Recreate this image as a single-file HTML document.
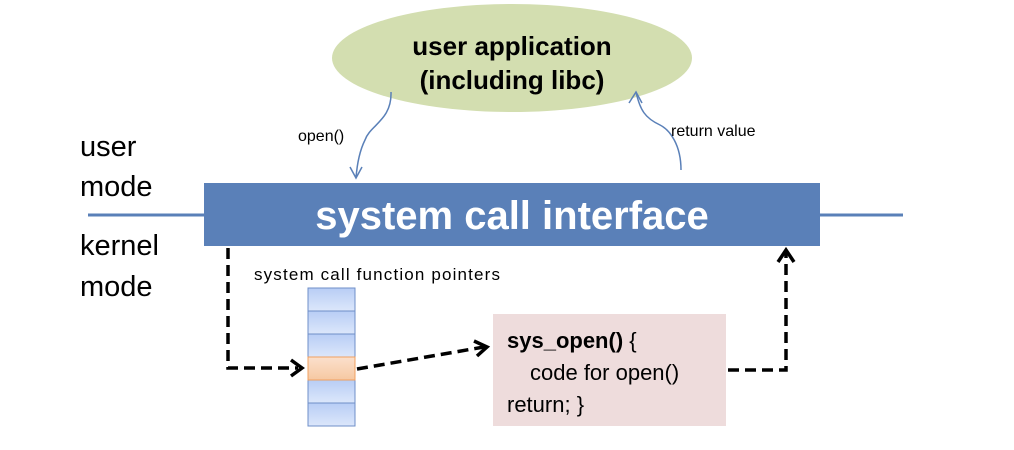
<!DOCTYPE html>
<html><head><style>
html,body{margin:0;padding:0;background:#fff;}
svg{display:block;}
text{font-family:"Liberation Sans",sans-serif;}
</style></head><body>
<svg width="1014" height="450" viewBox="0 0 1014 450" xmlns="http://www.w3.org/2000/svg">
<defs>
<linearGradient id="bg" x1="0" y1="0" x2="0" y2="1"><stop offset="0" stop-color="#b8cdf5"/><stop offset="1" stop-color="#dce7fb"/></linearGradient>
<linearGradient id="og" x1="0" y1="0" x2="0" y2="1"><stop offset="0" stop-color="#fbe0cc"/><stop offset="1" stop-color="#f6c8a2"/></linearGradient>
</defs>
<ellipse cx="512" cy="58" rx="180" ry="54" fill="#d3deb0"/>
<text x="512" y="55" text-anchor="middle" font-size="26" font-weight="bold">user application</text>
<text x="512" y="89" text-anchor="middle" font-size="26" font-weight="bold">(including libc)</text>
<line x1="88" y1="215" x2="903" y2="215" stroke="#5a80b8" stroke-width="3"/>
<rect x="204" y="183" width="616" height="63" fill="#5a80b8"/>
<text x="512" y="229" text-anchor="middle" font-size="40" font-weight="bold" fill="#fff">system call interface</text>
<text x="80" y="156" font-size="29">user</text>
<text x="80" y="196" font-size="29">mode</text>
<text x="80" y="255" font-size="29">kernel</text>
<text x="80" y="296" font-size="29">mode</text>
<path d="M391 92 C392 120 370 125 365 140 C360 150 357 165 356 178" fill="none" stroke="#5a80b8" stroke-width="1.5"/>
<path d="M350 167 L356 178 L362 167" fill="none" stroke="#5a80b8" stroke-width="1.5"/>
<text x="298" y="141" font-size="16">open()</text>
<path d="M681 170 C681 145 670 130 660 125 C645 118 640 110 636 92" fill="none" stroke="#5a80b8" stroke-width="1.5"/>
<path d="M629 103 L636 92 L642 103" fill="none" stroke="#5a80b8" stroke-width="1.5"/>
<text x="671" y="136" font-size="16">return value</text>
<text x="254" y="280" font-size="17" textLength="246">system call function pointers</text>
<g stroke="#6f8fc8" stroke-width="1">
<rect x="308" y="288" width="47" height="23" fill="url(#bg)"/>
<rect x="308" y="311" width="47" height="23" fill="url(#bg)"/>
<rect x="308" y="334" width="47" height="23" fill="url(#bg)"/>
<rect x="308" y="380" width="47" height="23" fill="url(#bg)"/>
<rect x="308" y="403" width="47" height="23" fill="url(#bg)"/>
</g>
<rect x="308" y="357" width="47" height="23" fill="url(#og)" stroke="#f0a060" stroke-width="1"/>
<rect x="493" y="314" width="233" height="112" fill="#eedcdc"/>
<text x="507" y="348" font-size="22"><tspan font-weight="bold">sys_open()</tspan> {</text>
<text x="530" y="380" font-size="22">code for open()</text>
<text x="507" y="412" font-size="22">return; }</text>
<g fill="none" stroke="#000" stroke-width="3.5" stroke-dasharray="11,6">
<path d="M228 248 L228 368 L298 368"/>
<path d="M357 369 L484 347"/>
<path d="M728 370 L786 370 L786 252"/>
</g>
<g fill="none" stroke="#000" stroke-width="3.5">
<path d="M291 360 L302 368 L291 376"/>
<path d="M474 341 L487 347 L477 356"/>
<path d="M778 262 L786 250 L794 262"/>
</g>
</svg>
</body></html>
